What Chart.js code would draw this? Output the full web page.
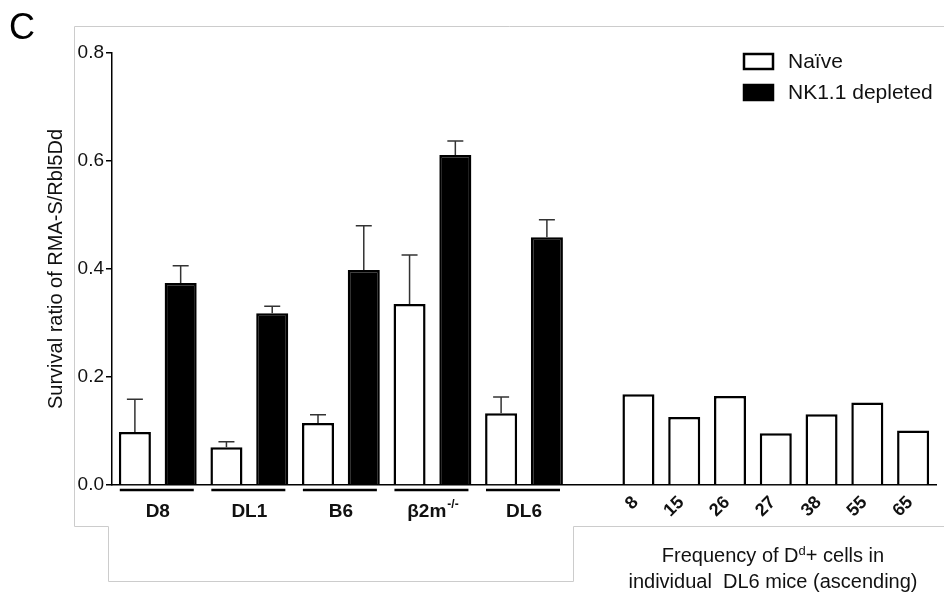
<!DOCTYPE html>
<html>
<head>
<meta charset="utf-8">
<script src="https://cdn.jsdelivr.net/npm/chart.js@4.4.1/dist/chart.umd.min.js"></script>
<style>
  html, body { margin: 0; padding: 0; background: #fff; }
  #wrap { position: relative; width: 944px; height: 595px; font-family: 'Liberation Sans', Arial, sans-serif; }
  #panel { position: absolute; left: 9px; top: 6px; font-size: 36px; color: #000; }
  #xtitle { position: absolute; left: 600px; width: 346px; top: 542px; text-align: center; font-size: 20px; line-height: 26px; color: #111; }
  #xtitle sup { font-size: 13px; vertical-align: 7px; line-height: 0; }
</style>
</head>
<body>
<div id="wrap">
  <canvas id="myChart" width="944" height="595"></canvas>
  <div id="panel">C</div>
  <div id="xtitle">Frequency of D<sup>d</sup>+ cells in<br>individual&nbsp; DL6 mice (ascending)</div>
</div>
<script>
// groups of mice (paired bars)
const groups = ['D8', 'DL1', 'B6', 'β2m', 'DL6'];
const groupSup = ['', '', '', '-/-', ''];
const naiveMean = [0.098, 0.070, 0.115, 0.335, 0.133];
const naiveErr = [0.061, 0.010, 0.015, 0.091, 0.030];
const nkMean = [0.374, 0.318, 0.398, 0.611, 0.459];
const nkErr = [0.032, 0.013, 0.082, 0.026, 0.032];
// individual DL6 mice
const mouseFreq = ['8', '15', '26', '27', '38', '55', '65'];
const mouseRatio = [0.168, 0.126, 0.165, 0.096, 0.131, 0.153, 0.101];
const yTicks = [0, 0.2, 0.4, 0.6, 0.8];

// build the slot layout: two slots per group, one empty slot, then one per mouse
const labels = [];
const naiveData = [];
const nkData = [];
groups.forEach((g, i) => {
    labels.push('', '');
    naiveData.push(naiveMean[i], null);
    nkData.push(null, nkMean[i]);
});
labels.push('');
naiveData.push(null);
nkData.push(null);
mouseFreq.forEach((f, i) => {
    labels.push(f);
    naiveData.push(mouseRatio[i]);
    nkData.push(null);
});

Chart.defaults.font.family = "'Liberation Sans', Arial, sans-serif";
Chart.defaults.color = '#000';

const decor = {
    id: 'decor',
    beforeDraw(chart) {
        // light grey panel outline
        const ctx = chart.ctx;
        ctx.save();
        ctx.strokeStyle = '#cccccc';
        ctx.lineWidth = 1;
        ctx.beginPath();
        ctx.moveTo(944, 26.5);
        ctx.lineTo(74.5, 26.5);
        ctx.lineTo(74.5, 526.5);
        ctx.lineTo(108.5, 526.5);
        ctx.lineTo(108.5, 581.5);
        ctx.lineTo(573.5, 581.5);
        ctx.lineTo(573.5, 526.5);
        ctx.lineTo(944, 526.5);
        ctx.stroke();
        ctx.restore();
    },
    afterDatasetsDraw(chart) {
        const ctx = chart.ctx;
        const x = chart.scales.x;
        const y = chart.scales.y;
        ctx.save();

        // error bars (upper only)
        ctx.strokeStyle = '#333';
        ctx.lineWidth = 1.5;
        const drawErr = (idx, mean, err) => {
            const px = x.getPixelForValue(idx);
            const y0 = y.getPixelForValue(mean);
            const y1 = y.getPixelForValue(mean + err);
            ctx.beginPath();
            ctx.moveTo(px, y0);
            ctx.lineTo(px, y1);
            ctx.moveTo(px - 8, y1);
            ctx.lineTo(px + 8, y1);
            ctx.stroke();
        };
        groups.forEach((g, i) => {
            drawErr(2 * i, naiveMean[i], naiveErr[i]);
            drawErr(2 * i + 1, nkMean[i], nkErr[i]);
        });

        // group underlines and labels
        const base = y.getPixelForValue(0);
        groups.forEach((g, i) => {
            const cx = (x.getPixelForValue(2 * i) + x.getPixelForValue(2 * i + 1)) / 2;
            ctx.strokeStyle = '#000';
            ctx.lineWidth = 2.5;
            ctx.beginPath();
            ctx.moveTo(cx - 38, base + 5);
            ctx.lineTo(cx + 36, base + 5);
            ctx.stroke();

            ctx.fillStyle = '#111';
            ctx.textBaseline = 'middle';
            ctx.font = "bold 19px 'Liberation Sans', Arial, sans-serif";
            const w = ctx.measureText(g).width;
            ctx.font = "bold 12px 'Liberation Sans', Arial, sans-serif";
            const ws = groupSup[i] ? ctx.measureText(groupSup[i]).width : 0;
            const start = cx - (w + ws) / 2;
            ctx.font = "bold 19px 'Liberation Sans', Arial, sans-serif";
            ctx.textAlign = 'left';
            ctx.fillText(g, start, base + 27);
            if (groupSup[i]) {
                ctx.font = "bold 12px 'Liberation Sans', Arial, sans-serif";
                ctx.fillText(groupSup[i], start + w + 1, base + 20);
            }
        });

        // legend
        ctx.font = "21px 'Liberation Sans', Arial, sans-serif";
        ctx.textAlign = 'left';
        ctx.textBaseline = 'middle';
        chart.data.datasets.forEach((ds, i) => {
            const ly = 62 + i * 31;
            ctx.fillStyle = ds.backgroundColor;
            ctx.fillRect(744, ly - 8, 29, 15);
            ctx.strokeStyle = '#000';
            ctx.lineWidth = 2.5;
            ctx.strokeRect(744, ly - 8, 29, 15);
            ctx.fillStyle = '#111';
            ctx.fillText(ds.label, 788, ly);
        });
        ctx.restore();
    }
};

const ctx = document.getElementById('myChart').getContext('2d');
const myChart = new Chart(ctx, {
    type: 'bar',
    data: {
        labels: labels,
        datasets: [
            {
                label: 'Naïve',
                data: naiveData,
                backgroundColor: '#ffffff',
                borderColor: '#000000',
                borderWidth: 2.5,
                grouped: false,
                barPercentage: 0.7,
                categoryPercentage: 1
            },
            {
                label: 'NK1.1 depleted',
                data: nkData,
                backgroundColor: '#000000',
                borderColor: '#000000',
                borderWidth: 2.5,
                grouped: false,
                barPercentage: 0.7,
                categoryPercentage: 1
            }
        ]
    },
    options: {
        responsive: false,
        animation: false,
        layout: { padding: { top: 53, right: 8, left: 0, bottom: 0 } },
        plugins: {
            legend: { display: false },
            tooltip: { enabled: false }
        },
        scales: {
            x: {
                grid: { display: false, drawTicks: false },
                border: { color: '#000', width: 1.5 },
                ticks: {
                    autoSkip: false,
                    minRotation: 45,
                    maxRotation: 45,
                    padding: 7,
                    labelOffset: -3,
                    color: '#111',
                    font: { size: 18, weight: 'bold' }
                },
                afterFit: (scale) => { scale.height = 110; }
            },
            y: {
                min: 0,
                max: 0.8,
                afterBuildTicks: (scale) => { scale.ticks = yTicks.map(v => ({ value: v })); },
                grid: { drawOnChartArea: false, drawTicks: true, tickLength: 6, color: '#000', lineWidth: 1.5 },
                border: { color: '#000', width: 1.5 },
                ticks: {
                    padding: 2,
                    color: '#111',
                    font: { size: 19 },
                    callback: (v) => Number(v).toFixed(1)
                },
                title: {
                    display: true,
                    text: 'Survival ratio of RMA-S/Rbl5Dd',
                    color: '#111',
                    font: { size: 20 },
                    padding: { top: 44, bottom: 0 }
                },
                afterFit: (scale) => { scale.width = 112; }
            }
        }
    },
    plugins: [decor]
});
</script>
</body>
</html>
